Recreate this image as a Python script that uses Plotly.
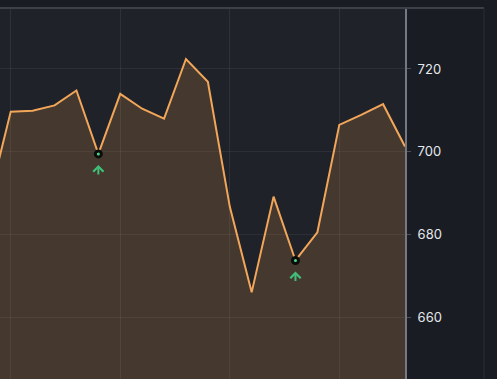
import plotly.graph_objects as go

# data
idx = list(range(20))
values = [688.2, 709.7, 709.9, 711.2, 714.8, 699.5, 714.0, 710.4, 708.0, 722.4,
          716.9, 686.8, 666.1, 689.2, 673.8, 680.6, 706.5, 708.9, 711.5, 701.3]
signal_idx = [5, 14]
signal_vals = [values[i] for i in signal_idx]
ytick_vals = [660, 680, 700, 720]
xgrid_vals = [1, 6, 11, 16]

fig = go.Figure()
fig.add_trace(go.Scatter(
    x=idx, y=values, mode="lines",
    line=dict(color="#f2a65a", width=2),
    fill="tozeroy", fillcolor="rgba(240,160,80,0.18)",
    hoverinfo="skip", showlegend=False,
))
fig.add_trace(go.Scatter(
    x=signal_idx, y=signal_vals, mode="markers",
    marker=dict(size=6, color="#4fd88a", line=dict(color="#0a0d0b", width=3)),
    showlegend=False, hoverinfo="skip",
))
for xi, yv in zip(signal_idx, signal_vals):
    fig.add_annotation(x=xi, y=yv, text="", showarrow=True, yshift=-11,
                       ax=0, ay=11, arrowhead=4, arrowsize=1, arrowwidth=2,
                       arrowcolor="#3fbf78", standoff=0)

W, H = 497, 379
plot_right = 405
fig.update_layout(
    width=W, height=H,
    margin=dict(l=0, r=W - plot_right, t=8, b=0),
    paper_bgcolor="#191c22",
    plot_bgcolor="#1f2229",
    font=dict(family="Inter, Roboto, sans-serif", color="#e6e8ec", size=13),
    xaxis=dict(range=[0.51, 19], tickvals=xgrid_vals, showticklabels=False,
               showgrid=True, gridcolor="rgba(255,255,255,0.07)", gridwidth=1,
               zeroline=False, showline=False, ticks=""),
    yaxis=dict(range=[645.2, 734.7], side="right", tickvals=ytick_vals,
               showgrid=True, gridcolor="rgba(255,255,255,0.06)", gridwidth=1,
               zeroline=False, showline=True, linecolor="#737882", linewidth=2,
               ticks="outside", ticklen=4, tickcolor="#4a4f58", tickwidth=1,
               ticklabelstandoff=4,
               tickfont=dict(size=13, color="#e6e8ec")),
    shapes=[
        dict(type="line", xref="paper", yref="paper", x0=0, x1=484 / plot_right,
             y0=1, y1=1, line=dict(color="#3c4049", width=2)),
        dict(type="line", xref="paper", yref="paper", x0=484 / plot_right, x1=484 / plot_right,
             y0=0, y1=1, line=dict(color="#2a2e35", width=1)),
    ],
)

fig.write_html(
    "out.html",
    config={"displayModeBar": False},
    post_script="document.body.style.margin='0';document.body.style.overflow='hidden';"
                "document.body.style.background='#191c22';",
)
